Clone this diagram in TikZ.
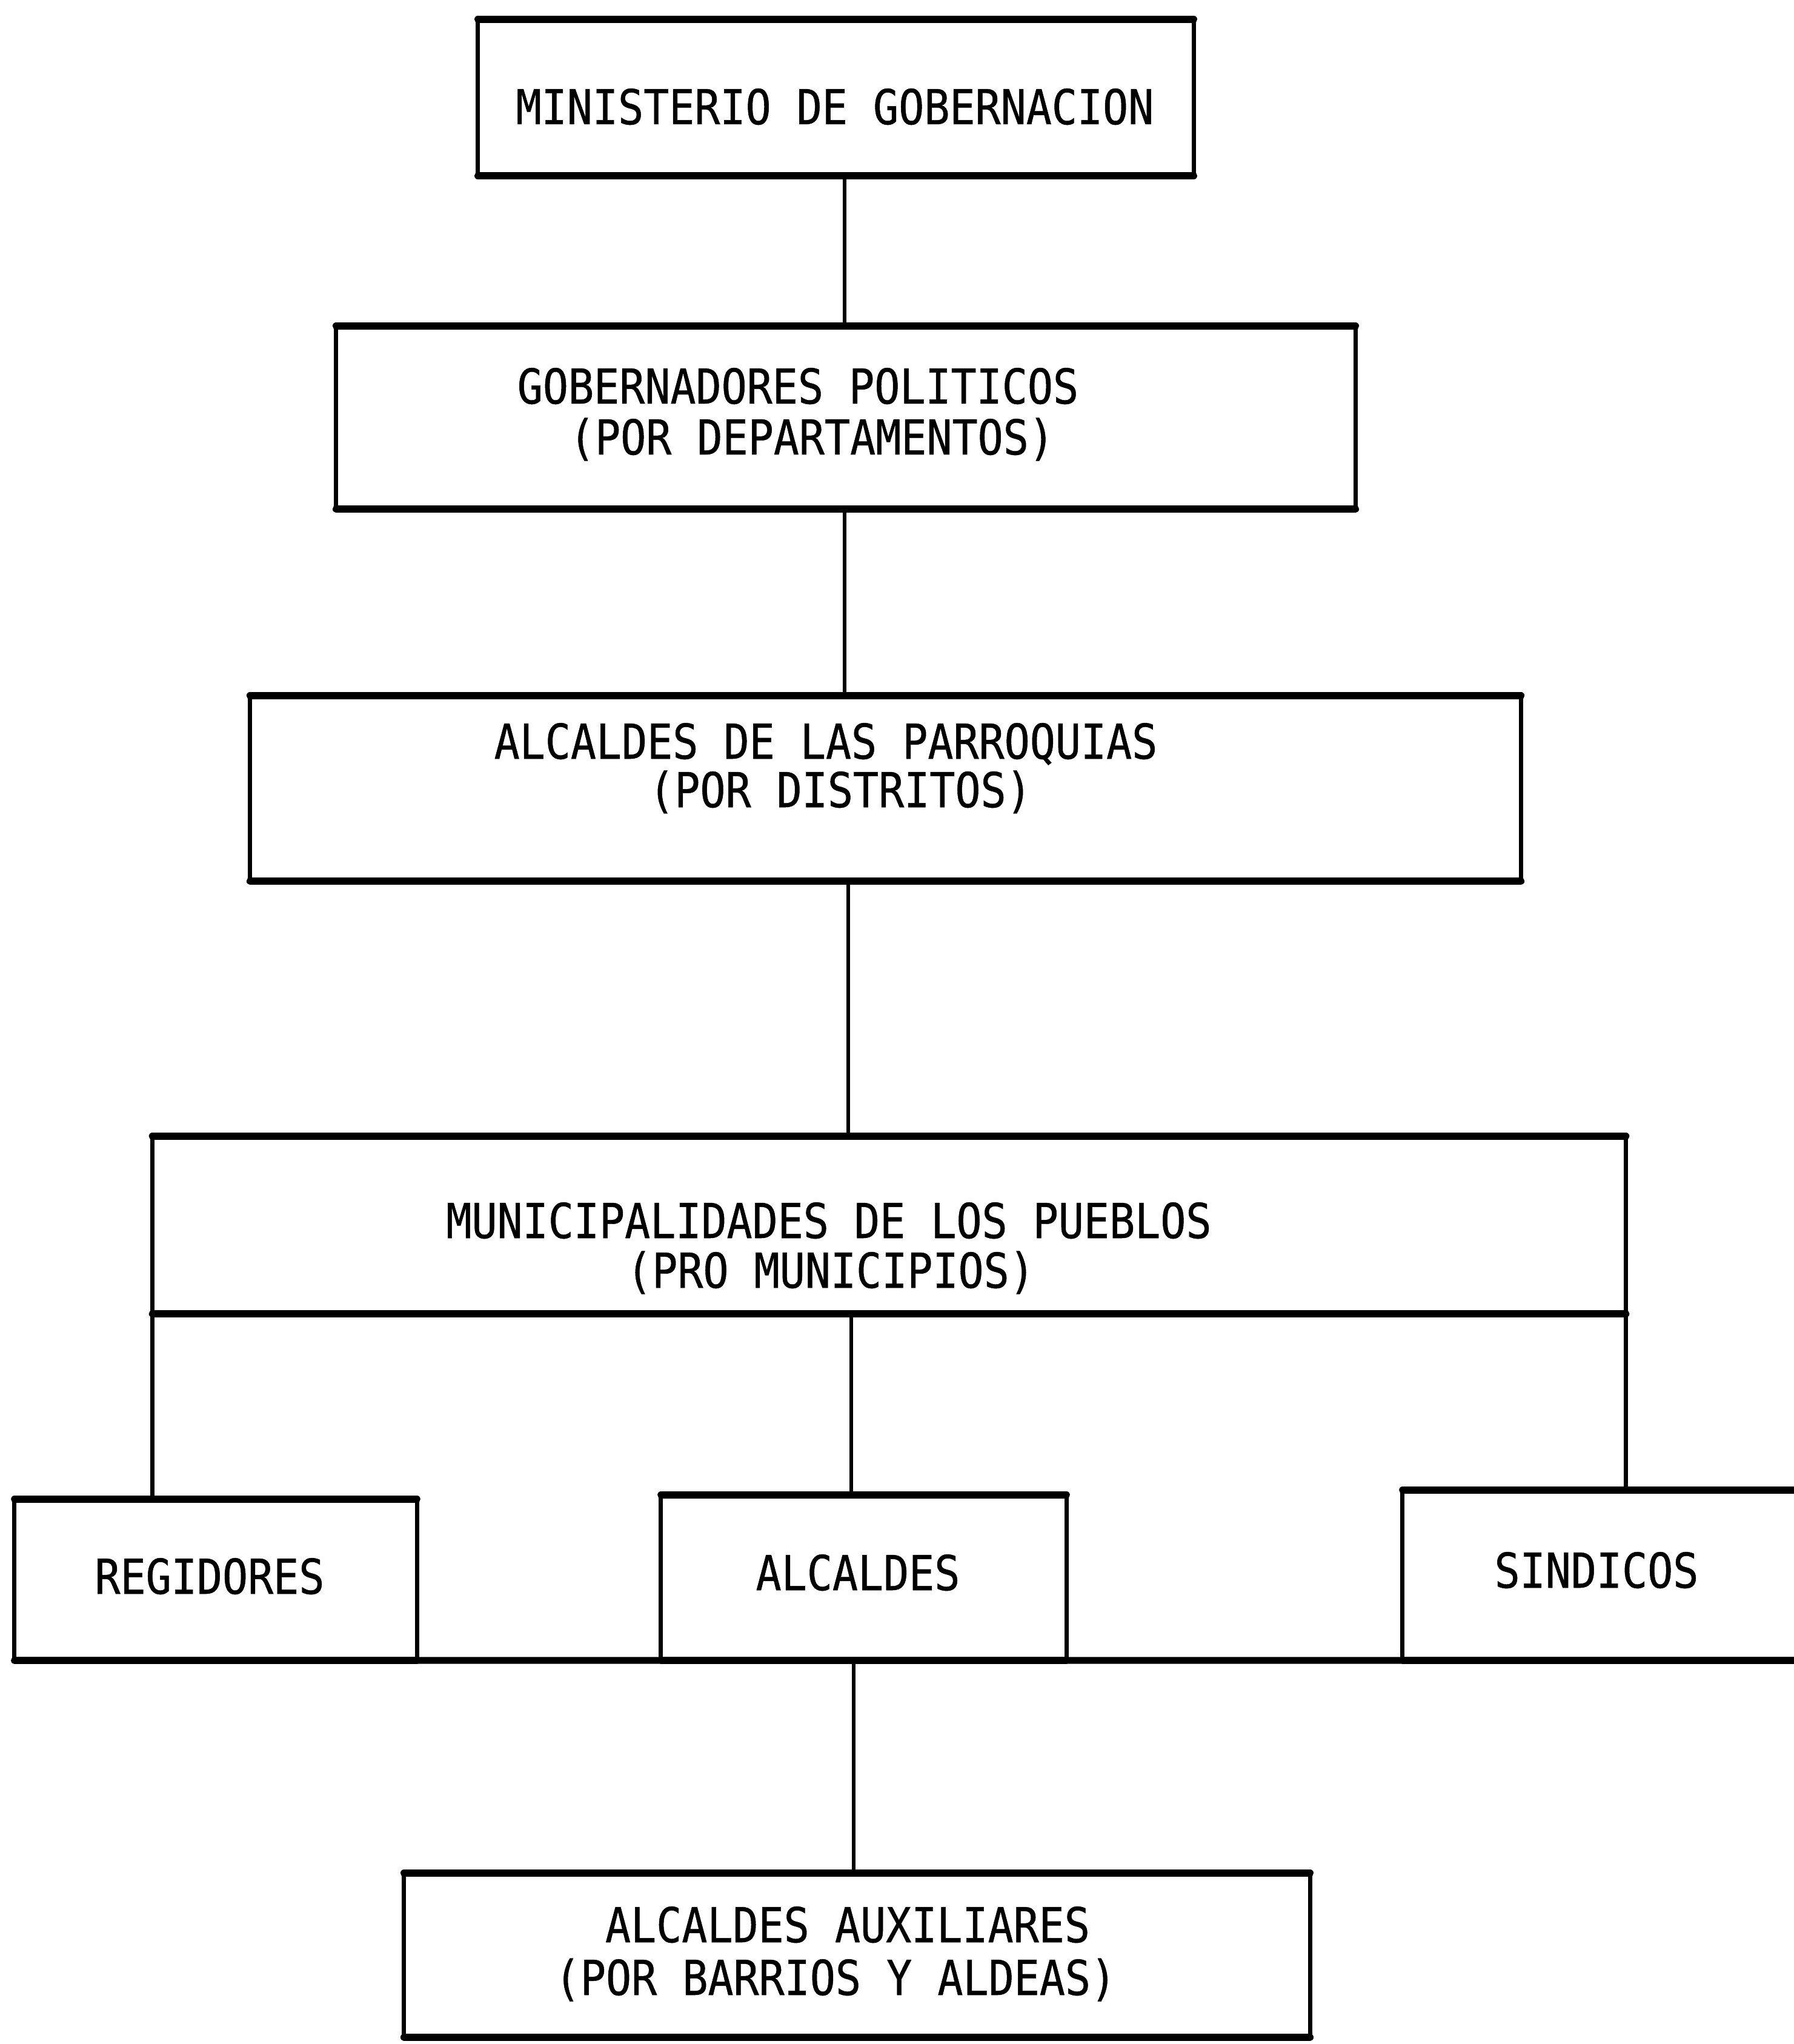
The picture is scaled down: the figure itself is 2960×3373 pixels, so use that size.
\documentclass[tikz,border=0pt]{standalone}
\usepackage{fontspec}
\newfontfamily\orgfont{DejaVu Sans Mono}[FakeStretch=0.88,FakeBold=0.6]
\begin{document}
\begin{tikzpicture}[x=0.01cm,y=-0.01cm,
  box/.style={draw, line width=1.9pt, inner sep=0pt, outer sep=0pt, rectangle},
  edge/.style={line width=3.2pt, line cap=round},
  conn/.style={line width=1.9pt},
  lbl/.style={anchor=base, inner sep=0pt, font=\orgfont\fontsize{22.6pt}{24pt}\selectfont}]
\useasboundingbox (0,0) rectangle (2960,3373);
% boxes
\node[box, minimum width=11.81cm, minimum height=2.58cm] (b1) at (1379.5,161) {};
\node[box, minimum width=16.82cm, minimum height=3.02cm] (b2) at (1396,689) {};
\node[box, minimum width=20.97cm, minimum height=3.06cm] (b3) at (1461.5,1301) {};
\node[box, minimum width=24.31cm, minimum height=2.93cm] (b4) at (1467.5,2021.5) {};
\node[box, minimum width=6.64cm, minimum height=2.66cm] (reg) at (356,2607) {};
\node[box, minimum width=6.69cm, minimum height=2.73cm] (alc) at (1425.5,2603.5) {};
\node[box, minimum width=7.85cm, minimum height=2.81cm] (sin) at (2707.5,2599.5) {};
\node[box, minimum width=14.95cm, minimum height=2.71cm] (aux) at (1414.5,3226.5) {};
\foreach \n in {b1,b2,b3,b4,reg,alc,sin,aux}
  \draw[edge] (\n.north west) -- (\n.north east) (\n.south west) -- (\n.south east);
% labels
\node[lbl] (t1) at (1378,205) {MINISTERIO DE GOBERNACION};
\node[lbl] (t2a) at (1317,666) {GOBERNADORES POLITICOS};
\node[lbl] (t2b) at (1340,750) {(POR DEPARTAMENTOS)};
\node[lbl] (t3a) at (1363,1252) {ALCALDES DE LAS PARROQUIAS};
\node[lbl] (t3b) at (1387,1332) {(POR DISTRITOS)};
\node[lbl] (t4a) at (1368,2043) {MUNICIPALIDADES DE LOS PUEBLOS};
\node[lbl] (t4b) at (1371,2125) {(PRO MUNICIPIOS)};
\node[lbl] (treg) at (346,2630) {REGIDORES};
\node[lbl] (talc) at (1416,2624) {ALCALDES};
\node[lbl] (tsin) at (2635,2620) {SINDICOS};
\node[lbl] (t8a) at (1399,3205) {ALCALDES AUXILIARES};
\node[lbl] (t8b) at (1379,3292) {(POR BARRIOS Y ALDEAS)};
% connector positions
\coordinate (c1) at (1394,0);
\coordinate (c3) at (1400,0);
\coordinate (c4) at (1405,0);
\coordinate (c5) at (1409,0);
\coordinate (busend) at (3000,2740);
\draw[conn] (c1 |- b1.south) -- (c1 |- b2.north);
\draw[conn] (c1 |- b2.south) -- (c1 |- b3.north);
\draw[conn] (c3 |- b3.south) -- (c3 |- b4.north);
\draw[conn] (b4.south west) -- (b4.south west |- reg.north);
\draw[conn] (b4.south east) -- (b4.south east |- sin.north);
\draw[conn] (c4 |- b4.south) -- (c4 |- alc.north);
\draw[edge] (reg.south west) -- (busend);
\draw[conn] (c5 |- reg.south) -- (c5 |- aux.north);
\end{tikzpicture}
\end{document}
